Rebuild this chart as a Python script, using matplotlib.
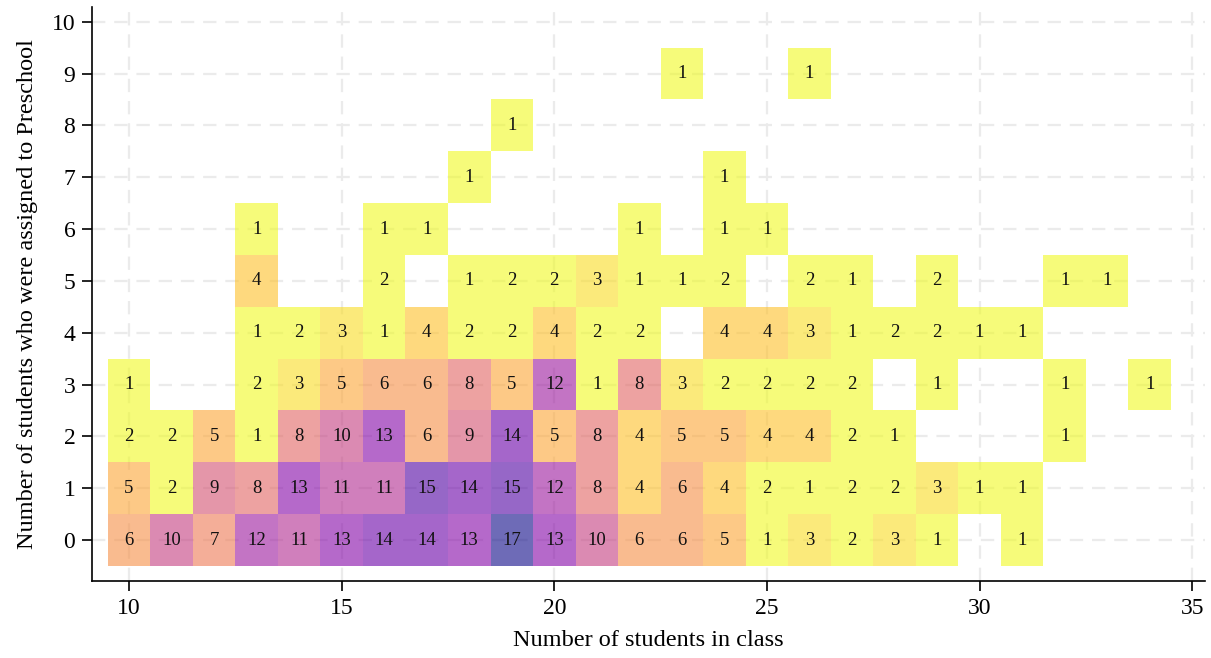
import numpy as np
import matplotlib.pyplot as plt

# class size, number of preschool-assigned students, number of classes
class_size = [10, 11, 12, 13, 14, 15, 16, 17, 18, 19, 20, 21, 22, 23, 24, 25, 26, 27, 28, 29, 31,
              10, 11, 12, 13, 14, 15, 16, 17, 18, 19, 20, 21, 22, 23, 24, 25, 26, 27, 28, 29, 30, 31,
              10, 11, 12, 13, 14, 15, 16, 17, 18, 19, 20, 21, 22, 23, 24, 25, 26, 27, 28, 32,
              10, 13, 14, 15, 16, 17, 18, 19, 20, 21, 22, 23, 24, 25, 26, 27, 29, 32, 34,
              13, 14, 15, 16, 17, 18, 19, 20, 21, 22, 24, 25, 26, 27, 28, 29, 30, 31,
              13, 16, 18, 19, 20, 21, 22, 23, 24, 26, 27, 29, 32, 33,
              13, 16, 17, 22, 24, 25,
              18, 24,
              19,
              23, 26]
n_preschool = [0] * 21 + [1] * 22 + [2] * 20 + [3] * 19 + [4] * 18 + [5] * 14 + [6] * 6 + [7] * 2 + [8] + [9] * 2
n_classes = [6, 10, 7, 12, 11, 13, 14, 14, 13, 17, 13, 10, 6, 6, 5, 1, 3, 2, 3, 1, 1,
             5, 2, 9, 8, 13, 11, 11, 15, 14, 15, 12, 8, 4, 6, 4, 2, 1, 2, 2, 3, 1, 1,
             2, 2, 5, 1, 8, 10, 13, 6, 9, 14, 5, 8, 4, 5, 5, 4, 4, 2, 1, 1,
             1, 2, 3, 5, 6, 6, 8, 5, 12, 1, 8, 3, 2, 2, 2, 2, 1, 1, 1,
             1, 2, 3, 1, 4, 2, 2, 4, 2, 2, 4, 4, 3, 1, 2, 2, 1, 1,
             4, 2, 1, 2, 2, 3, 1, 1, 2, 2, 1, 2, 1, 1,
             1, 1, 1, 1, 1, 1,
             1, 1,
             1,
             1, 1]

xs = np.arange(10, 35)
ys = np.arange(0, 10)
grid = np.full((len(ys), len(xs)), np.nan)
for x, y, c in zip(class_size, n_preschool, n_classes):
    grid[y, x - xs[0]] = c

plt.rcParams['font.family'] = ['Liberation Serif', 'DejaVu Serif']

fig = plt.figure(figsize=(12.11, 6.58), dpi=100)
ax = fig.add_axes([0.076, 0.117, 0.919, 0.872])

ax.pcolormesh(np.append(xs, xs[-1] + 1) - 0.5, np.append(ys, ys[-1] + 1) - 0.5,
              np.ma.masked_invalid(grid), cmap='plasma_r', vmin=2, vmax=17,
              alpha=0.6, edgecolors='none', zorder=2)

for x, y, c in zip(class_size, n_preschool, n_classes):
    ax.text(x, y, str(c), ha='center', va='center', fontsize=13.5, color='#111111', zorder=3)

ax.set_xlim(9.13, 35.3)
ax.set_ylim(-0.79, 10.28)
ax.set_xticks([10, 15, 20, 25, 30, 35])
ax.set_yticks(range(0, 11))
ax.grid(True, color='#ebebeb', linestyle=(0, (6, 4)), linewidth=1.6, zorder=0)
ax.set_axisbelow(True)

for s in ['top', 'right']:
    ax.spines[s].set_visible(False)
ax.spines['left'].set_linewidth(1.2)
ax.spines['bottom'].set_linewidth(1.2)
ax.tick_params(labelsize=17, length=7, width=1.2, direction='out', pad=5)

ax.set_xlabel('Number of students in class', fontsize=17.5, labelpad=8)
ax.set_ylabel('Number of students who were assigned to Preschool', fontsize=17.5, labelpad=10)

fig.savefig('out.png', dpi=100)
